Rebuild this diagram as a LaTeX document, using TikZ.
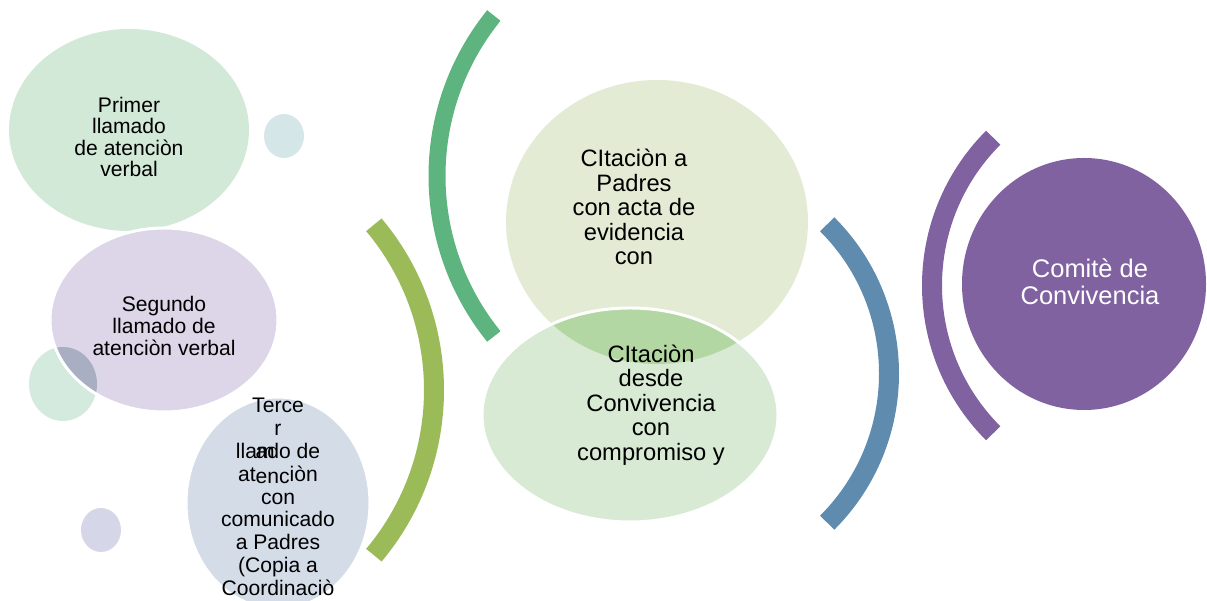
\documentclass[tikz,border=0pt]{standalone}
\usepackage{fontspec}
\setmainfont{Liberation Sans}

\definecolor{primerfill}{HTML}{D3E9D8}
\definecolor{segundofill}{HTML}{DCD6E8}
\definecolor{tercerfill}{HTML}{D4DCE8}
\definecolor{dotblue}{HTML}{D5E6E8}
\definecolor{dotmint}{HTML}{D4EADF}
\definecolor{dotlilac}{HTML}{D6D6E9}
\definecolor{greyoverlap}{HTML}{A9AFC3}
\definecolor{darkoverlap}{HTML}{9B9CB3}
\definecolor{padresfill}{HTML}{E3EBD4}
\definecolor{desdefill}{HTML}{D8EAD4}
\definecolor{greenoverlap}{HTML}{B3D7A2}
\definecolor{olivearc}{HTML}{9BBB59}
\definecolor{greenarc}{HTML}{5DB47E}
\definecolor{bluearc}{HTML}{5F8BAE}
\definecolor{comitepurple}{HTML}{8062A0}

\tikzset{
  bubble/.style={align=center, inner sep=0pt, text=black},
  band/.style={line width=0.4cm},
  ring/.style={draw=white, line width=1.7pt}
}

\begin{document}
\begin{tikzpicture}[x=0.02cm, y=0.02cm]

% the page
\useasboundingbox (0,0) rectangle (1207,601);

% left bubbles
\fill[primerfill] (129,471) ellipse [x radius=120, y radius=101];
\fill[dotblue] (284,465) ellipse [x radius=20, y radius=22];
\fill[dotmint] (63,217) ellipse [x radius=34, y radius=37];
\fill[segundofill] (164,281) ellipse [x radius=114, y radius=92];
\begin{scope}
  \clip (63,217) ellipse [x radius=34, y radius=37];
  \fill[greyoverlap] (164,281) ellipse [x radius=114, y radius=92];
\end{scope}
\begin{scope}
  \clip (129,471) ellipse [x radius=120, y radius=101];
  \fill[darkoverlap] (164,281) ellipse [x radius=114, y radius=92];
\end{scope}
\draw[ring] (164,281) ellipse [x radius=114, y radius=92];
\filldraw[fill=tercerfill, ring] (278,98) ellipse [x radius=92, y radius=106];
\fill[dotlilac] (101,71) ellipse [x radius=20, y radius=22];

% middle bubbles
\fill[padresfill] (657,379) ellipse [x radius=151, y radius=142];
\fill[desdefill] (630,186) ellipse [x radius=148, y radius=107];
\begin{scope}
  \clip (657,379) ellipse [x radius=151, y radius=142];
  \fill[greenoverlap] (630,186) ellipse [x radius=148, y radius=107];
\end{scope}
\draw[ring] (630,186) ellipse [x radius=148, y radius=107];

% right bubble
\fill[comitepurple] (1084,317) ellipse [x radius=122, y radius=126];

% the arcs
\draw[band, olivearc] (177,211) ++(-40:257) arc[start angle=-40, end angle=40, radius=257];
\draw[band, greenarc, line width=0.34cm] (692,425) ++(141:255) arc[start angle=141, end angle=219, radius=255];
\draw[band, bluearc] (678,227.5) ++(-45:211) arc[start angle=-45, end angle=45, radius=211];
\draw[band, comitepurple] (1141,315.5) ++(135:209) arc[start angle=135, end angle=225, radius=209];

% texts
\node[bubble, font=\fontsize{12}{12.2}\selectfont] (primer) at (129,464)
  {Primer\\llamado\\de atenciòn\\verbal};
\node[bubble, font=\fontsize{12}{12.5}\selectfont] (segundo) at (164,275)
  {Segundo\\llamado de\\atenciòn verbal};
\node[bubble, font=\fontsize{12}{13}\selectfont] (tercer) at (278,104)
  {Terce\\r\\llam\kern-.9em ado de\\at\raisebox{-1pt}{enc}iòn\\con\\comunicado\\a Padres\\(Copia a\\Coordinaciò};
\node[bubble, font=\fontsize{13.5}{13.9}\selectfont] (padres) at (634,394)
  {CItaciòn a\\Padres\\con acta de\\evidencia\\con};
\node[bubble, font=\fontsize{13.5}{14}\selectfont] (desde) at (651,196)
  {CItaciòn\\desde\\Convivencia\\con\\compromiso y};
\node[bubble, text=white, font=\fontsize{14.5}{15.2}\selectfont] (comite) at (1090,319)
  {Comitè de\\Convivencia};

\end{tikzpicture}
\end{document}
